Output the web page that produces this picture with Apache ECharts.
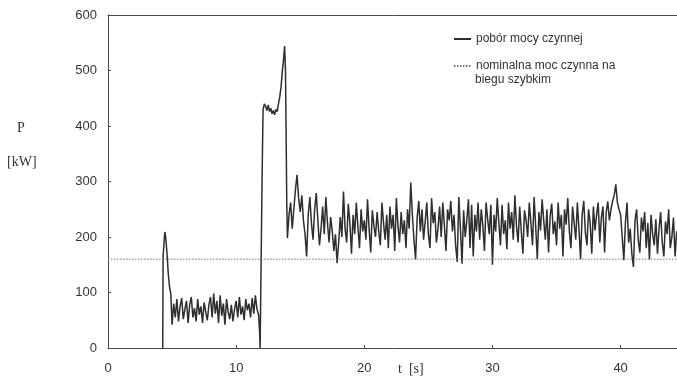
<!DOCTYPE html>
<html>
<head>
<meta charset="utf-8">
<script src="https://cdn.jsdelivr.net/npm/echarts@6/dist/echarts.min.js"></script>
<style>
html,body{margin:0;padding:0;background:#fff;}
#chart{width:677px;height:377px;}
</style>
</head>
<body>
<div id="chart"></div>
<script>
// ---- data ----
const xTicks = [0, 10, 20, 30, 40];
const yTicks = [0, 100, 200, 300, 400, 500, 600];
const nominalPower = 160;

// start-up transient (time [s], power [kW])
const startT = [4.27, 4.3, 4.43, 4.5, 4.6, 4.7, 4.8, 4.9];
const startP = [0, 165, 209, 200, 172, 135, 110, 98];

// idle run, sampled every 0.125 s from 5.0 s
const idleStart = 5.0, idleStep = 0.125;
const idleP = [
  42, 80, 55, 88, 48, 75, 90, 52,
  70, 85, 45, 78, 92, 55, 72, 48,
  88, 60, 75, 45, 82, 65, 50, 78,
  92, 55, 98, 62, 85, 45, 95, 58,
  80, 42, 88, 65, 52, 78, 48, 70,
  85, 55, 92, 60, 75, 50, 88, 68,
  80, 55, 90, 62, 95, 70, 60
];

// switching to the fast gear (time [s], power [kW])
const switchT = [11.83, 11.87, 11.9, 12.02, 12.1, 12.2, 12.3, 12.4, 12.5, 12.6, 12.7, 12.8, 12.9, 13.0, 13.1, 13.2, 13.3, 13.4, 13.5, 13.6, 13.7, 13.78, 13.85, 13.9, 13.95];
const switchP = [30, 0, 0, 300, 430, 440, 435, 428, 438, 426, 432, 422, 428, 420, 430, 426, 440, 452, 470, 498, 520, 544, 500, 380, 260];

// load run, sampled every 0.125 s from 14.0 s
const loadStart = 14.0, loadStep = 0.125;
const loadP = [
  198, 240, 262, 215, 250, 285, 312, 270,
  245, 275, 230, 205, 165, 240, 272, 225,
  195, 250, 279, 230, 185, 215, 255, 205,
  272, 225, 190, 236, 210, 175, 205, 153,
  190, 236, 200, 282, 215, 190, 260, 225,
  170, 240, 205, 262, 218, 180, 250, 210,
  230, 195, 268, 215, 172, 248, 220, 200,
  245, 210, 185, 262, 225, 195, 240, 180,
  255, 215, 240, 175, 270, 220, 190, 245,
  205, 230, 180, 250, 215, 298, 240, 195,
  160, 235, 265, 210, 250, 195, 228, 262,
  205, 180, 270, 225, 245, 190, 215, 255,
  200, 262, 220, 175, 250, 230, 265, 210,
  240, 185, 155, 272, 215, 152, 248, 200,
  230, 268, 180, 258, 165, 240, 210, 262,
  195, 250, 220, 175, 262, 232, 205, 258,
  150, 240, 210, 270, 225, 185, 258, 205,
  230, 178, 262, 215, 245, 195, 275, 220,
  190, 255, 210, 170, 248, 230, 200, 262,
  225, 185, 272, 218, 160, 245, 212, 268,
  230, 195, 250, 172, 238, 260, 205, 228,
  185, 262, 215, 240, 165, 250, 222, 270,
  210, 180, 255, 225, 195, 262, 215, 160,
  240, 265, 208, 185, 250, 225, 170, 255,
  212, 240, 262, 190, 235, 255, 172, 245,
  264, 230, 250, 265, 275, 295, 262, 250,
  240, 200, 158, 225, 262, 190, 215, 170,
  146, 230, 250, 195, 172, 235, 210, 245,
  180, 225, 160, 240, 205, 185, 232, 170,
  215, 245, 190, 165, 228, 205, 250, 180,
  200, 235, 165, 210, 190
];

const seriesName1 = 'pobór mocy czynnej';
const seriesName2 = 'nominalna moc czynna na biegu szybkim';

// ---- build series data ----
const powerData = [];
startT.forEach((t, i) => powerData.push([t, startP[i]]));
idleP.forEach((p, i) => powerData.push([+(idleStart + i * idleStep).toFixed(3), p]));
switchT.forEach((t, i) => powerData.push([t, switchP[i]]));
loadP.forEach((p, i) => powerData.push([+(loadStart + i * loadStep).toFixed(3), p]));

const xMax = 44.4;
const nominalData = [[0, nominalPower], [xMax, nominalPower]];

const FONT = '"Liberation Sans", Arial, sans-serif';
const SERIF = '"Liberation Serif", "Times New Roman", serif';
const axisColor = '#4a4a4a';
const textColor = '#333';

const chart = echarts.init(document.getElementById('chart'), null, {renderer: 'canvas'});
chart.setOption({
  animation: false,
  backgroundColor: '#fff',
  grid: {left: 108, right: 0, top: 15, bottom: 29, containLabel: false},
  legend: {
    show: true,
    orient: 'vertical',
    left: 448,
    top: 28,
    width: 220,
    itemWidth: 17,
    itemHeight: 14,
    itemGap: 15,
    data: [seriesName1, seriesName2],
    itemStyle: {opacity: 0, borderWidth: 0},
    formatter: function (name) {
      return name === seriesName2 ? 'nominalna moc czynna na' : name;
    },
    textStyle: {fontFamily: FONT, fontSize: 12, color: textColor}
  },
  xAxis: [{
    type: 'value',
    min: 0,
    max: xMax,
    interval: 10,
    position: 'bottom',
    axisLine: {show: true, lineStyle: {color: axisColor, width: 1}},
    axisTick: {show: true, inside: true, length: 3, lineStyle: {color: axisColor}},
    axisLabel: {
      show: true, margin: 14, fontFamily: FONT, fontSize: 13, color: textColor,
      showMaxLabel: false,
      formatter: function (v) { return xTicks.indexOf(v) >= 0 ? String(v) : ''; }
    },
    splitLine: {show: false}
  }, {
    type: 'value',
    min: 0,
    max: xMax,
    position: 'top',
    axisLine: {show: true, lineStyle: {color: axisColor, width: 1}},
    axisTick: {show: false},
    axisLabel: {show: false},
    splitLine: {show: false}
  }],
  yAxis: {
    type: 'value',
    min: yTicks[0],
    max: yTicks[yTicks.length - 1],
    interval: 100,
    axisLine: {show: true, lineStyle: {color: axisColor, width: 1}},
    axisTick: {show: true, inside: true, length: 3, lineStyle: {color: axisColor}},
    axisLabel: {margin: 11, fontFamily: FONT, fontSize: 13, color: textColor},
    splitLine: {show: false}
  },
  series: [{
    name: seriesName1,
    type: 'line',
    xAxisIndex: 0,
    data: powerData,
    showSymbol: false,
    symbol: 'none',
    clip: true,
    lineStyle: {color: '#2e2e2e', width: 1.5},
    itemStyle: {color: '#2e2e2e'}
  }, {
    name: seriesName2,
    type: 'line',
    xAxisIndex: 0,
    data: nominalData,
    showSymbol: false,
    symbol: 'none',
    lineStyle: {color: '#777', width: 1, type: [1.5, 1.5]},
    itemStyle: {color: '#777'}
  }],
  graphic: [
    {type: 'text', left: 17, top: 121, style: {text: 'P', font: '14px ' + SERIF, fill: textColor}},
    {type: 'text', left: 7, top: 155, style: {text: '[kW]', font: '14px ' + SERIF, fill: textColor}},
    {type: 'text', left: 398, top: 362, style: {text: 't  [s]', font: '14px ' + SERIF, fill: textColor}},
    {type: 'text', left: 475, top: 74, style: {text: 'biegu szybkim', font: '12px ' + FONT, fill: textColor}}
  ]
});
</script>
</body>
</html>
